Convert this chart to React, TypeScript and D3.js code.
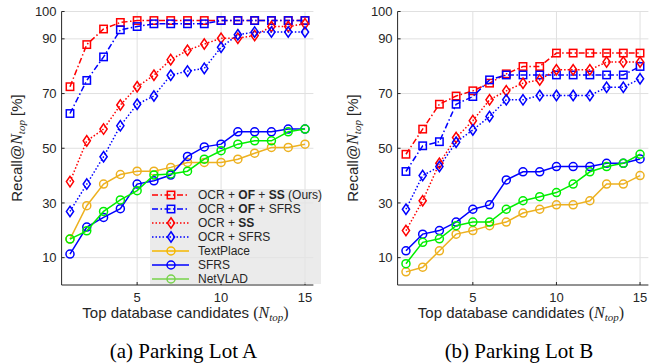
import * as d3 from "d3";

const nTop = [1, 2, 3, 4, 5, 6, 7, 8, 9, 10, 11, 12, 13, 14, 15];
const xTicks = [5, 10, 15];
const yTicks = [10, 30, 50, 70, 90, 100];

// Parking Lot A
const aOcrOfSs = [72.5, 87.9, 93.6, 96, 96.7, 96.7, 96.7, 96.7, 96.7, 96.7, 96.7, 96.7, 96.7, 96.7, 96.7];
const aOcrOfSfrs = [62.7, 74.8, 83.4, 93.3, 94.5, 95.5, 95.5, 95.5, 95.5, 96.7, 96.7, 96.7, 96.7, 96.7, 96.7];
const aOcrSs = [37.8, 52.7, 57, 65.8, 72.5, 76.7, 82.4, 85.8, 88.1, 90.2, 90.2, 91.2, 94.5, 94.5, 95.5];
const aOcrSfrs = [26.9, 36.9, 46.9, 58.2, 66.1, 69.1, 76.7, 78.2, 79.2, 86.9, 91.5, 92.5, 92.5, 92.5, 92.5];
const aTextPlace = [16.8, 29, 36.9, 40.4, 41.6, 41.6, 43, 44.8, 44.8, 44.8, 46, 48.2, 50.3, 50.3, 51.5];
const aSfrs = [11.3, 21.2, 24.7, 27.9, 36.9, 38.1, 40.2, 47, 50.5, 51.5, 56, 56, 56, 57, 57];
const aNetVlad = [16.8, 19.8, 26.9, 31.1, 34.5, 40.2, 40.6, 41.6, 46, 49.1, 51.5, 52.7, 52.7, 56, 57];

// Parking Lot B
const bOcrOfSs = [47.8, 57, 66.1, 69.1, 71, 73.8, 77.2, 79.9, 79.9, 84.8, 84.8, 84.8, 84.8, 84.8, 84.8];
const bOcrOfSfrs = [41.5, 50.9, 52.4, 66.1, 68.9, 75, 76.8, 76.8, 76.8, 76.8, 76.8, 76.8, 76.8, 76.8, 79.9];
const bOcrSs = [19.9, 30.8, 44.5, 53.9, 60.1, 67.7, 71, 73.8, 75, 78.7, 78.7, 78.7, 81.5, 81.5, 81.5];
const bOcrSfrs = [27.7, 40, 43.3, 52.2, 56.7, 61.6, 67.7, 67.7, 69.3, 69.3, 69.3, 69.3, 72.3, 72.3, 75.4];
const bTextPlace = [4.8, 6.5, 12.5, 18.6, 19.9, 21.7, 23, 26.3, 27.7, 29.3, 29.3, 30.8, 36.9, 36.9, 40];
const bSfrs = [12.5, 18.6, 19.9, 23, 27.7, 29.3, 38.4, 41.4, 41.4, 43.3, 43.3, 43.3, 44.5, 44.5, 46.1];
const bNetVlad = [7.8, 15.6, 16.9, 21.7, 23, 23, 27.7, 30.8, 32.3, 33.8, 36.9, 41.4, 43.3, 44.5, 47.8];

type Marker = "square" | "diamond" | "circle";
interface Style { color: string; marker: Marker; dash: string | undefined; }

const styles: Style[] = [
  { color: "#ff0000", marker: "square", dash: "6,2.5,1.5,2.5" },
  { color: "#0000ff", marker: "square", dash: "6,2.5,1.5,2.5" },
  { color: "#ff0000", marker: "diamond", dash: "1.5,2" },
  { color: "#0000ff", marker: "diamond", dash: "1.5,2" },
  { color: "#EDB120", marker: "circle", dash: undefined },
  { color: "#0000ff", marker: "circle", dash: undefined },
  { color: "#00ee00", marker: "circle", dash: undefined },
];

const seriesA = [aOcrOfSs, aOcrOfSfrs, aOcrSs, aOcrSfrs, aTextPlace, aSfrs, aNetVlad];
const seriesB = [bOcrOfSs, bOcrOfSfrs, bOcrSs, bOcrSfrs, bTextPlace, bSfrs, bNetVlad];

const axisColor = "#262626";
const gridColor = "#e0e0e0";
const sans = "'Liberation Sans', Arial, sans-serif";
const serif = "'Liberation Serif', 'Times New Roman', serif";

function MarkerShape({ kind, x, y, color }: { kind: Marker; x: number; y: number; color: string }) {
  const common = { fill: "none", stroke: color, strokeWidth: 1.5 };
  if (kind === "square") return <rect x={x - 3.7} y={y - 3.7} width={7.4} height={7.4} {...common} />;
  if (kind === "diamond")
    return <path d={`M${x},${y - 5.2}L${x + 3.6},${y}L${x},${y + 5.2}L${x - 3.6},${y}Z`} {...common} />;
  return <circle cx={x} cy={y} r={4} {...common} />;
}

function Panel({ x0, x1, series, caption, legend }: { x0: number; x1: number; series: number[][]; caption: string; legend: boolean }) {
  const x = d3.scaleLinear().domain([0.5, 15.5]).range([x0, x1]);
  const y = d3.scaleLinear().domain([0, 100]).range([285, 11.5]);
  const line = d3.line<number>().x((_, i) => x(nTop[i])).y(d => y(d));
  const cx = (x0 + x1) / 2;

  return (
    <g>
      {xTicks.map(t => (
        <line key={"gx" + t} x1={x(t)} x2={x(t)} y1={y(100)} y2={y(0)} stroke={gridColor} strokeWidth={1} />
      ))}
      {yTicks.map(t => (
        <line key={"gy" + t} x1={x0} x2={x1} y1={y(t)} y2={y(t)} stroke={gridColor} strokeWidth={1} />
      ))}
      <line x1={x0} x2={x0} y1={y(100)} y2={y(0)} stroke={axisColor} strokeWidth={1} />
      <line x1={x0} x2={x1} y1={y(0)} y2={y(0)} stroke={axisColor} strokeWidth={1} />
      {yTicks.map(t => (
        <g key={"ty" + t}>
          <line x1={x0} x2={x0 + 3} y1={y(t)} y2={y(t)} stroke={axisColor} />
          <text x={x0 - 5} y={y(t)} dy="0.35em" textAnchor="end" fontSize={13} fill={axisColor} fontFamily={sans}>{t}</text>
        </g>
      ))}
      {xTicks.map(t => (
        <g key={"tx" + t}>
          <line x1={x(t)} x2={x(t)} y1={y(0)} y2={y(0) - 3} stroke={axisColor} />
          <text x={x(t)} y={y(0) + 17} textAnchor="middle" fontSize={13} fill={axisColor} fontFamily={sans}>{t}</text>
        </g>
      ))}

      {series.map((vals, si) => (
        <g key={"s" + si}>
          <path d={line(vals) || ""} fill="none" stroke={styles[si].color} strokeWidth={1.5} strokeDasharray={styles[si].dash} />
          {vals.map((v, i) => (
            <MarkerShape key={i} kind={styles[si].marker} x={x(nTop[i])} y={y(v)} color={styles[si].color} />
          ))}
        </g>
      ))}

      <text transform={`translate(${x0 - 40},148) rotate(-90)`} textAnchor="middle" fontSize={15} fill={axisColor} fontFamily={sans}>
        Recall@<tspan fontFamily={serif} fontStyle="italic" fontSize={16}>N</tspan>
        <tspan fontFamily={serif} fontStyle="italic" fontSize={11} dy={3}>top</tspan>
        <tspan dy={-3}>{"  [%]"}</tspan>
      </text>
      <text x={cx - 2} y={318} textAnchor="middle" fontSize={15} fill={axisColor} fontFamily={sans}>
        Top database candidates <tspan fontFamily={serif} fontSize={16}>(</tspan>
        <tspan fontFamily={serif} fontStyle="italic" fontSize={16}>N</tspan>
        <tspan fontFamily={serif} fontStyle="italic" fontSize={11} dy={3}>top</tspan>
        <tspan fontFamily={serif} fontSize={16} dy={-3}>)</tspan>
      </text>
      <text x={cx - 4} y={358} textAnchor="middle" fontSize={21} fill="#000" fontFamily={serif}>{caption}</text>

      {legend && <Legend />}
    </g>
  );
}

const legendLabels: { text: string; bold: boolean }[][] = [
  [{ text: "OCR + ", bold: false }, { text: "OF", bold: true }, { text: " + ", bold: false }, { text: "SS", bold: true }, { text: " (Ours)", bold: false }],
  [{ text: "OCR + ", bold: false }, { text: "OF", bold: true }, { text: " + SFRS", bold: false }],
  [{ text: "OCR + ", bold: false }, { text: "SS", bold: true }],
  [{ text: "OCR + SFRS", bold: false }],
  [{ text: "TextPlace", bold: false }],
  [{ text: "SFRS", bold: false }],
  [{ text: "NetVLAD", bold: false }],
];

function Legend() {
  const lx = 150, ly = 189, lw = 171, lh = 95;
  return (
    <g>
      <rect x={lx} y={ly} width={lw} height={lh} fill="#e4e4e4" fillOpacity={0.75} />
      {legendLabels.map((parts, i) => {
        const yy = ly + 6 + i * 14;
        const st = styles[i];
        const color = i === 6 ? "#77d34a" : i === 4 ? "#f5b700" : st.color;
        return (
          <g key={i}>
            <line x1={lx + 2} x2={lx + 39} y1={yy} y2={yy} stroke={color} strokeWidth={1.5} strokeDasharray={st.dash} />
            <MarkerShape kind={st.marker} x={lx + 21} y={yy} color={color} />
            <text x={lx + 48} y={yy} dy="0.35em" fontSize={12} fill={axisColor} fontFamily={sans}>
              {parts.map((p, j) => (
                <tspan key={j} fontWeight={p.bold ? "bold" : "normal"}>{p.text}</tspan>
              ))}
            </text>
          </g>
        );
      })}
    </g>
  );
}

export default function App() {
  return (
    <svg width={661} height={364} style={{ position: "absolute", left: 0, top: 0, background: "#fff" }}>
      <Panel x0={61.6} x1={313.4} series={seriesA} caption="(a) Parking Lot A" legend={true} />
      <Panel x0={397.6} x1={648.4} series={seriesB} caption="(b) Parking Lot B" legend={false} />
    </svg>
  );
}
